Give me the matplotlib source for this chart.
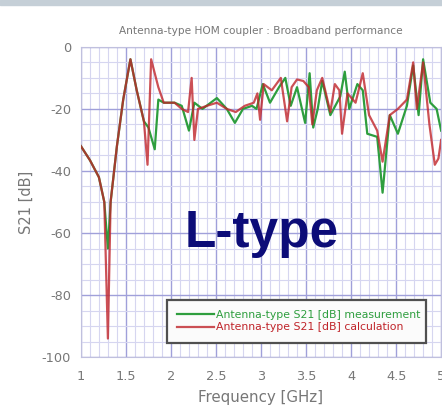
import numpy as np
import matplotlib as mpl
mpl.use('Agg')
import matplotlib.pyplot as plt
from matplotlib.patches import Rectangle
from matplotlib.ticker import MultipleLocator

plt.rcParams['font.family'] = ['DejaVu Sans']
plt.rcParams['axes.unicode_minus'] = False

# ========== Data ==========
freq_calc = [1.00, 1.10, 1.20, 1.26, 1.30, 1.33, 1.40, 1.47, 1.55, 1.62, 1.70, 1.74,
             1.78, 1.86, 1.92, 2.04, 2.12, 2.19, 2.23, 2.26, 2.30, 2.40, 2.51, 2.62,
             2.72, 2.82, 2.92, 2.96, 2.99, 3.03, 3.12, 3.22, 3.29, 3.34, 3.40, 3.47,
             3.53, 3.57, 3.62, 3.68, 3.77, 3.82, 3.87, 3.90, 3.96, 4.05, 4.13, 4.20,
             4.29, 4.35, 4.43, 4.52, 4.62, 4.69, 4.73, 4.80, 4.87, 4.93, 4.97, 5.00]
s21_calc = [-32, -36.5, -42, -50, -94, -50, -32, -17, -4, -14, -24, -38,
            -4, -13, -18, -18, -20, -21, -10, -30, -20, -19, -18, -20,
            -21, -19, -18, -15, -23.5, -12, -14, -10, -24, -13, -10.5, -11,
            -13, -25, -14, -10, -21, -12, -14, -28, -15, -18, -8.5, -22,
            -27, -37, -22, -20, -17, -5, -20, -5, -25, -38, -36, -30]

freq_meas = [1.00, 1.10, 1.20, 1.26, 1.30, 1.33, 1.40, 1.47, 1.55, 1.62, 1.70, 1.75,
             1.82, 1.86, 1.92, 2.04, 2.12, 2.20, 2.26, 2.35, 2.51, 2.62, 2.71, 2.80,
             2.90, 2.95, 3.02, 3.10, 3.20, 3.27, 3.33, 3.40, 3.49, 3.54, 3.58, 3.63,
             3.68, 3.77, 3.88, 3.93, 3.98, 4.07, 4.13, 4.18, 4.29, 4.35, 4.43, 4.52,
             4.62, 4.69, 4.75, 4.80, 4.88, 4.95, 5.00]
s21_meas = [-32, -36.5, -42, -50, -65, -50, -32, -17, -4, -14, -24, -26,
            -33, -17, -18, -18, -19, -27, -18, -20, -16.5, -20, -24.5, -20,
            -19, -20, -12, -18, -13, -10, -19, -13, -24.5, -8.5, -26, -20,
            -11, -22, -16, -8, -20, -12, -14, -28, -29, -47, -22, -28,
            -19, -6, -22, -4, -18, -20, -27]

xtick_vals = [1, 1.5, 2, 2.5, 3, 3.5, 4, 4.5, 5]
xtick_labels = ['1', '1.5', '2', '2.5', '3', '3.5', '4', '4.5', '5']
title = "Antenna-type HOM coupler : Broadband performance"
label_meas = "Antenna-type S21 [dB] measurement"
label_calc = "Antenna-type S21 [dB] calculation"

GREEN = '#2e9e3e'
RED = '#c0242a'
GREY = '#777777'

# ========== Figure ==========
fig = plt.figure(figsize=(4.42, 4.11), dpi=100)
fig.patches.append(Rectangle((0, 0.989), 1, 0.011, transform=fig.transFigure,
                             color='#c5cfd7', zorder=0))
ax = fig.add_axes([0.183, 0.131, 0.815, 0.755])

ax.plot(freq_meas, s21_meas, color=GREEN, lw=1.6, label=label_meas, zorder=3)
ax.plot(freq_calc, s21_calc, color=RED, lw=1.6, alpha=0.8, label=label_calc, zorder=4)

ax.set_xlim(1, 5)
ax.set_ylim(-100, 0)
ax.xaxis.set_minor_locator(MultipleLocator(0.1))
ax.yaxis.set_major_locator(MultipleLocator(20))
ax.yaxis.set_minor_locator(MultipleLocator(5))
ax.set_xticks(xtick_vals)
ax.set_xticklabels(xtick_labels)
ax.grid(which='major', color='#a0a0da', lw=1.0, zorder=1)
ax.grid(which='minor', color='#d6d6f0', lw=0.8, zorder=1)
ax.tick_params(which='both', length=0, labelsize=9.3, labelcolor=GREY)
ax.tick_params(axis='x', pad=9)
ax.tick_params(axis='y', pad=7)
for s in ax.spines.values():
    s.set_color('#c0c0de')

ax.set_title(title, fontsize=7.6, color=GREY, pad=9)
ax.set_xlabel("Frequency [GHz]", fontsize=10.8, color=GREY, labelpad=5)
ax.set_ylabel("S21 [dB]", fontsize=10.5, color=GREY, labelpad=6)

leg = ax.legend(loc='lower left', bbox_to_anchor=(0.224, 0.029, 0.748, 0.145),
                mode='expand', fontsize=7.8, frameon=True, fancybox=False,
                borderpad=0.95, labelspacing=0.2, handlelength=3.4, handletextpad=0.15)
leg.get_frame().set_edgecolor('#505050')
leg.get_frame().set_linewidth(1.6)
leg.get_frame().set_facecolor('#fbfbfb')
leg.get_frame().set_alpha(1)
leg.get_texts()[0].set_color(GREEN)
leg.get_texts()[1].set_color(RED)

fig.text(0.593, 0.432, "L-type", fontsize=37, fontweight='bold', color='#0c0c78',
         family='Liberation Sans', ha='center', va='center')

fig.savefig('out.png', dpi=100)
